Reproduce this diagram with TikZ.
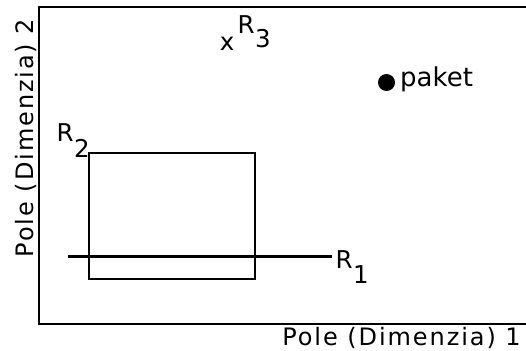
\documentclass[tikz,border=0pt]{standalone}
\usepackage{fontspec}
\setmainfont{DejaVu Sans}
\newfontfamily\labfont[LetterSpace=8]{DejaVu Sans}
\begin{document}
\begin{tikzpicture}[x=1pt,y=-1pt,
  txt/.style={inner sep=0pt,font=\fontsize{24.5}{24.5}\selectfont},
  axl/.style={inner sep=0pt,font=\labfont\fontsize{24}{24}\selectfont},
  frame/.style={line width=2pt},
  thin/.style={line width=1.8pt},
  thick/.style={line width=3pt}]
\useasboundingbox (0,0) rectangle (526,350);
% axes
\coordinate (tr) at (527,7.5);
\coordinate (tl) at (38.5,7.5);
\coordinate (bl) at (38.5,324);
\coordinate (br) at (527,324);
\draw[frame] (tr) -- (tl) -- (bl) -- (br);
% axis labels
\node[axl,anchor=base,rotate=90] (ylab) at (33,138) {Pole (Dimenzia) 2};
\node[axl,anchor=base] (xlab) at (401.5,345) {Pole (Dimenzia) 1};
% R2 rectangle
\node[thin,draw,minimum width=166pt,minimum height=126pt,inner sep=0pt,anchor=north west] (r2) at (88,152) {};
\node[txt,anchor=base west] (r2l) at (56.5,141) {R};
\node[txt,anchor=base west] (r2s) at (r2l.base east) [yshift=-16pt] {2};
% R1 line
\coordinate (r1a) at (68,256);
\coordinate (r1b) at (332,256);
\draw[thick] (r1a) -- (r1b);
\node[txt,anchor=base west] (r1l) at (335.5,268) {R};
\node[txt,anchor=base west] (r1s) at (r1l.base east) [yshift=-15pt] {1};
% R3 point
\node[txt,anchor=base] (x3) at (227,51) {x};
\node[txt,anchor=base west] (r3l) at (237.5,34) {R};
\node[txt,anchor=base west] (r3s) at (r3l.base east) [yshift=-14pt] {3};
% paket
\node[circle,fill,minimum size=17pt,inner sep=0pt] (pk) at (386.5,82.5) {};
\node[txt,font=\fontsize{26}{26}\selectfont,anchor=base west] (pkl) at (400,87) {paket};
\end{tikzpicture}
\end{document}
